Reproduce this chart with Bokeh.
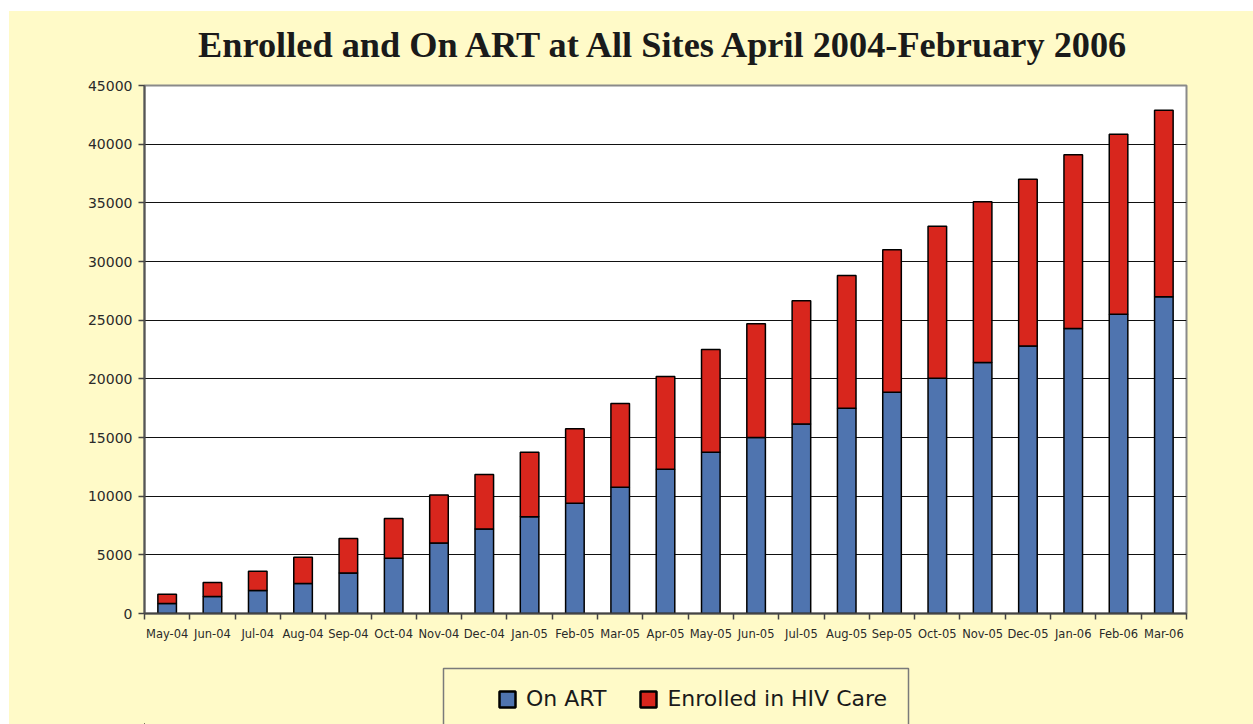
from bokeh.plotting import figure
from bokeh.layouts import column
from bokeh.models import (Range1d, FixedTicker, ColumnDataSource, Legend, LegendItem,
                          NumeralTickFormatter, BoxAnnotation)
from bokeh.embed import file_html
from bokeh.resources import INLINE

# ---- data ----
months = ["May-04", "Jun-04", "Jul-04", "Aug-04", "Sep-04", "Oct-04", "Nov-04", "Dec-04",
          "Jan-05", "Feb-05", "Mar-05", "Apr-05", "May-05", "Jun-05", "Jul-05", "Aug-05",
          "Sep-05", "Oct-05", "Nov-05", "Dec-05", "Jan-06", "Feb-06", "Mar-06"]
on_art = [850, 1450, 1950, 2550, 3450, 4700, 6000, 7200, 8250, 9400, 10750, 12300,
          13750, 15000, 16150, 17500, 18850, 20050, 21400, 22800, 24300, 25500, 27000]
enrolled_hiv_care = [800, 1200, 1650, 2250, 2950, 3400, 4100, 4650, 5500, 6350, 7150, 7900,
                     8750, 9700, 10500, 11300, 12150, 12950, 13700, 14200, 14800, 15350, 15900]
series_names = ["On ART", "Enrolled in HIV Care"]
y_ticks = [0, 5000, 10000, 15000, 20000, 25000, 30000, 35000, 40000, 45000]
title_text = "Enrolled and On ART at All Sites April 2004-February 2006"

BG = "#FFFAC8"
BLUE = "#4F74AF"
RED = "#D8261D"
W = 1244
ML, MR = 135, 67

# ---- title strip ----
pt = figure(width=W, height=65, output_backend="svg", toolbar_location=None,
            title=title_text, x_axis_location=None, y_axis_location=None,
            min_border_left=ML, min_border_right=MR, min_border_top=0, min_border_bottom=0)
pt.title.align = "center"
pt.title.text_font = "Liberation Serif"
pt.title.text_font_style = "bold"
pt.title.text_font_size = "36.3px"
pt.title.text_color = "#1a1a1a"
pt.title.standoff = 22
pt.grid.visible = False
pt.border_fill_color = BG
pt.background_fill_color = BG
pt.outline_line_color = None

# ---- main chart ----
xs = list(range(1, len(months) + 1))
src = ColumnDataSource(dict(x=xs, art=on_art, care=enrolled_hiv_care))

p = figure(width=W, height=584, output_backend="svg", toolbar_location=None,
           x_range=Range1d(0.5, len(months) + 0.5), y_range=Range1d(0, 45000),
           min_border_left=ML, min_border_right=MR, min_border_top=9, min_border_bottom=47)
p.title.visible = False
p.border_fill_color = BG
p.background_fill_color = "white"
p.outline_line_color = "#8a8a8a"
p.outline_line_width = 2

rs = p.vbar_stack(["art", "care"], x="x", width=0.41, color=[BLUE, RED], source=src,
                  line_color="black", line_width=1.5)

# x axis: labels at centres, ticks between categories
p.xaxis.ticker = FixedTicker(ticks=xs, minor_ticks=[i + 0.5 for i in range(len(months) + 1)])
p.xaxis.major_label_overrides = {i: m for i, m in zip(xs, months)}
p.xaxis.major_tick_out = 0
p.xaxis.major_tick_in = 0
p.xaxis.minor_tick_out = 6
p.xaxis.minor_tick_in = 0
p.xaxis.minor_tick_line_color = "#444444"
p.xaxis.minor_tick_line_width = 1.5
p.xaxis.axis_line_color = "#444444"
p.xaxis.axis_line_width = 2
p.xaxis.major_label_standoff = 7
p.xaxis.major_label_text_font = "DejaVu Sans"
p.xaxis.major_label_text_font_size = "11.5px"
p.xaxis.major_label_text_color = "#2a2a2a"

p.yaxis.ticker = FixedTicker(ticks=y_ticks)
p.yaxis.formatter = NumeralTickFormatter(format="0")
p.yaxis.minor_tick_line_color = None
p.yaxis.major_tick_out = 6
p.yaxis.major_tick_in = 0
p.yaxis.major_tick_line_color = "#444444"
p.yaxis.major_tick_line_width = 1.5
p.yaxis.axis_line_color = "#555555"
p.yaxis.axis_line_width = 2
p.yaxis.major_label_standoff = 6
p.yaxis.major_label_text_font = "DejaVu Sans"
p.yaxis.major_label_text_font_size = "14px"
p.yaxis.major_label_text_color = "#2a2a2a"

p.xgrid.grid_line_color = None
p.ygrid.ticker = FixedTicker(ticks=y_ticks)
p.ygrid.grid_line_color = "#111111"
p.ygrid.grid_line_width = 1

# ---- legend strip (frame spans the same width as the chart, in pixel units) ----
pl = figure(width=W, height=64, output_backend="svg", toolbar_location=None,
            x_range=Range1d(0, 1042), y_range=Range1d(0, 64),
            x_axis_location=None, y_axis_location=None,
            min_border_left=ML, min_border_right=MR, min_border_top=0, min_border_bottom=0)
pl.title.visible = False
pl.grid.visible = False
pl.border_fill_color = BG
pl.background_fill_color = BG
pl.outline_line_color = None

# legend box (bottom edge runs past the window, as in the original)
pl.add_layout(BoxAnnotation(left=299, right=764, top=56, bottom=-10,
                            fill_color=BG, fill_alpha=1.0,
                            line_color="#7a7a7a", line_width=1.5, line_alpha=1.0))

# legend swatch renderers (kept far outside the visible range)
la = pl.vbar(x=[-5000], top=[-5000], bottom=[-5100], width=1, fill_color=BLUE,
             line_color="black", line_width=2.5)
lb = pl.vbar(x=[-5000], top=[-5000], bottom=[-5100], width=1, fill_color=RED,
             line_color="black", line_width=2.5)

legend = Legend(items=[LegendItem(label=series_names[0], renderers=[la]),
                       LegendItem(label=series_names[1], renderers=[lb])],
                orientation="horizontal", location=(353, 13), padding=0, margin=0,
                spacing=32, label_standoff=9, glyph_width=20, glyph_height=20,
                label_text_font="DejaVu Sans", label_text_font_size="22px",
                label_text_color="#1a1a1a",
                border_line_alpha=0, background_fill_alpha=0)
pl.add_layout(legend, "center")

layout = column(pt, p, pl, spacing=0, margin=(11, 0, 0, 9),
                styles={"background-color": BG})

open("out.html", "w").write(file_html(layout, INLINE))
